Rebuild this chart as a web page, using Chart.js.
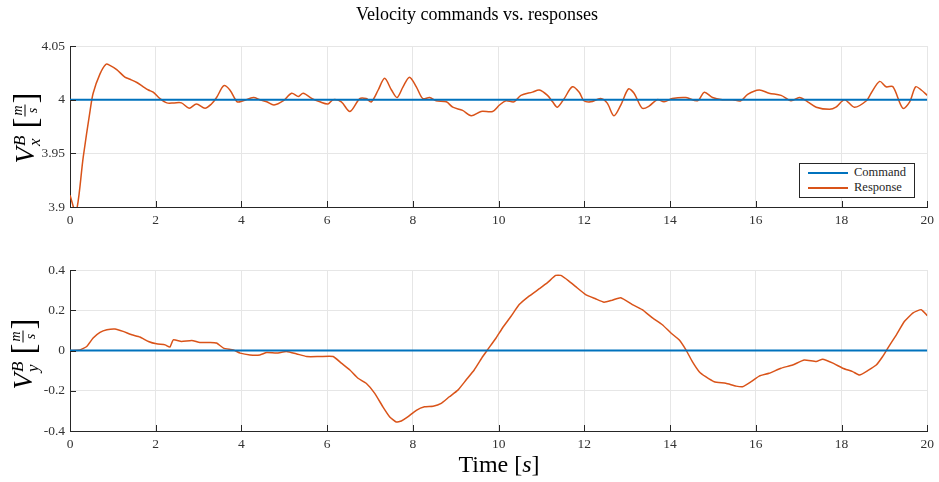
<!DOCTYPE html>
<html>
<head>
<meta charset="utf-8">
<script src="https://cdn.jsdelivr.net/npm/chart.js@4.4.1/dist/chart.umd.min.js"></script>
<style>
  body { margin: 0; background: #fff; font-family: "Liberation Serif", serif; color: #262626; }
  #wrap { position: relative; width: 939px; height: 482px; overflow: hidden; }
  .cv { position: absolute; left: 0; }
  .txt { position: absolute; white-space: nowrap; color: #000; }
  #title { left: 477px; top: 4px; transform: translateX(-50%); font-size: 18px; }
  #xlabel { left: 499px; top: 451px; transform: translateX(-50%); font-size: 24px; }
  .ylab { font-size: 27px; transform-origin: center center; display: flex; align-items: center; }
  .ylab .ss { display: inline-flex; flex-direction: column; font-size: 17px; line-height: 15px; margin-left: 1px; margin-top: 2px; }
  .ylab .fr { display: inline-flex; flex-direction: column; align-items: center; font-size: 14px; line-height: 14px; font-style: italic; }
  .ylab .fr span:first-child { border-bottom: 1px solid #000; padding: 0 1px; }
  .br { font-size: 33px; margin: 0 1px; }
  .gap { display: inline-block; width: 6px; }
  #legend { position: absolute; left: 799px; top: 163px; width: 114px; height: 33px; border: 1px solid #262626; background: #fff; font-size: 12.5px; }
  .li { position: absolute; left: 8px; display: flex; align-items: center; }
  .li i { display: inline-block; width: 40px; height: 2px; margin-right: 6px; }
</style>
</head>
<body>
<div id="wrap">
  <canvas id="top" class="cv" style="top:0px"></canvas>
  <canvas id="bot" class="cv" style="top:240px"></canvas>
  <div id="title" class="txt">Velocity commands vs. responses</div>
  <div id="xlabel" class="txt">Time [<i>s</i>]</div>
  <div id="ylab1" class="txt ylab"><i>V</i><span class="ss"><i>B</i><i>x</i></span><span class="gap"></span><span class="br">[</span><span class="fr"><span>m</span><span>s</span></span><span class="br">]</span></div>
  <div id="ylab2" class="txt ylab"><i>V</i><span class="ss"><i>B</i><i>y</i></span><span class="gap"></span><span class="br">[</span><span class="fr"><span>m</span><span>s</span></span><span class="br">]</span></div>
  <div id="legend">
    <div class="li" style="top:1px"><i style="background:#0072BD"></i>Command</div>
    <div class="li" style="top:16px"><i style="background:#D95319"></i>Response</div>
  </div>
</div>
<script>
// time axis
var xTicks = [0, 2, 4, 6, 8, 10, 12, 14, 16, 18, 20];

// command (constant)
var cmdT = [0, 20];
var cmdVx = [4, 4];
var cmdVy = [0, 0];

// response Vx
var tVx = [0, 0.14, 0.31, 0.47, 0.54, 0.70, 0.84, 0.93, 1.09, 1.28, 1.40, 1.56, 1.71, 1.83, 1.94,
  2.10, 2.26, 2.43, 2.60, 2.78, 2.95, 3.15, 3.30, 3.42, 3.59, 3.73, 3.90, 4.04, 4.28, 4.43,
  4.59, 4.76, 4.98, 5.17, 5.33, 5.44, 5.65, 5.83, 6.02, 6.14, 6.33, 6.53, 6.76, 6.91, 7.03,
  7.19, 7.34, 7.50, 7.63, 7.77, 7.92, 8.08, 8.23, 8.39, 8.54, 8.78, 8.93, 9.16, 9.36, 9.59,
  9.86, 10.02, 10.17, 10.36, 10.52, 10.79, 10.95, 11.14, 11.26, 11.37, 11.53, 11.72, 11.88, 11.99, 12.15,
  12.38, 12.53, 12.69, 12.85, 13.03, 13.16, 13.35, 13.51, 13.70, 13.86, 14.05, 14.37, 14.64, 14.80, 14.99,
  15.22, 15.46, 15.65, 15.81, 16.08, 16.31, 16.59, 16.82, 17.02, 17.21, 17.41, 17.72, 17.87, 18.07, 18.30,
  18.58, 18.69, 18.89, 19.04, 19.20, 19.43, 19.59, 19.73, 19.86, 20.00];
var respVx = [3.911, 3.895, 3.947, 3.990, 4.006, 4.024, 4.033, 4.032, 4.028, 4.021, 4.019, 4.016, 4.012, 4.009, 4.007,
  4.001, 3.997, 3.997, 3.997, 3.992, 3.996, 3.992, 3.996, 4.002, 4.013, 4.009, 3.998, 3.999, 4.002, 4.000,
  3.998, 3.995, 3.999, 4.006, 4.003, 4.006, 4.001, 3.998, 3.996, 4.000, 3.998, 3.989, 4.001, 4.001, 3.998,
  4.009, 4.020, 4.009, 4.002, 4.012, 4.021, 4.012, 4.001, 4.002, 3.999, 3.998, 3.993, 3.990, 3.985, 3.989,
  3.989, 3.995, 3.999, 3.998, 4.004, 4.007, 4.009, 4.004, 3.998, 3.993, 4.001, 4.012, 4.007, 3.999, 3.998,
  4.001, 3.997, 3.985, 3.995, 4.010, 4.006, 3.992, 3.994, 4.000, 3.998, 4.001, 4.002, 3.999, 4.007, 4.002,
  4.000, 4.000, 3.999, 4.005, 4.009, 4.006, 4.004, 3.999, 4.002, 3.998, 3.993, 3.991, 3.993, 4.000, 3.993,
  3.999, 4.006, 4.017, 4.012, 4.012, 3.992, 3.998, 4.012, 4.009, 4.004];

// response Vy
var tVy = [0, 0.23, 0.39, 0.54, 0.70, 0.86, 1.05, 1.24, 1.44, 1.63, 1.83, 2.02, 2.22, 2.33, 2.41,
  2.60, 2.84, 3.03, 3.27, 3.42, 3.58, 3.81, 3.97, 4.20, 4.43, 4.59, 4.82, 5.05, 5.29, 5.52,
  5.83, 6.14, 6.33, 6.53, 6.72, 6.91, 7.11, 7.30, 7.46, 7.61, 7.73, 7.88, 8.08, 8.27, 8.47,
  8.66, 8.85, 9.05, 9.24, 9.43, 9.63, 9.74, 9.94, 10.09, 10.29, 10.48, 10.71, 10.95, 11.14, 11.33,
  11.45, 11.64, 11.80, 12.03, 12.26, 12.46, 12.65, 12.85, 13.12, 13.35, 13.59, 13.82, 14.02, 14.21, 14.37,
  14.52, 14.68, 14.83, 15.03, 15.30, 15.54, 15.69, 15.89, 16.08, 16.31, 16.59, 16.86, 17.13, 17.41, 17.56,
  17.80, 18.03, 18.26, 18.42, 18.61, 18.81, 18.96, 19.08, 19.28, 19.47, 19.67, 19.86, 20.00];
var respVy = [0.000, 0.003, 0.020, 0.062, 0.090, 0.103, 0.107, 0.095, 0.078, 0.067, 0.045, 0.033, 0.028, 0.017, 0.053,
  0.045, 0.050, 0.040, 0.040, 0.037, 0.012, 0.003, -0.013, -0.022, -0.022, -0.010, -0.013, -0.005, -0.017, -0.030,
  -0.030, -0.030, -0.063, -0.097, -0.138, -0.163, -0.213, -0.280, -0.330, -0.355, -0.350, -0.330, -0.297, -0.280, -0.277,
  -0.263, -0.230, -0.197, -0.147, -0.097, -0.030, 0.003, 0.062, 0.112, 0.170, 0.228, 0.270, 0.307, 0.337, 0.373,
  0.373, 0.345, 0.317, 0.278, 0.257, 0.240, 0.250, 0.262, 0.228, 0.203, 0.162, 0.128, 0.087, 0.053, 0.003,
  -0.055, -0.105, -0.130, -0.155, -0.163, -0.177, -0.180, -0.155, -0.127, -0.113, -0.088, -0.072, -0.047, -0.055, -0.043,
  -0.063, -0.088, -0.105, -0.122, -0.100, -0.072, -0.030, 0.012, 0.078, 0.145, 0.187, 0.203, 0.173];

var yTicksTop = [3.9, 3.95, 4, 4.05];
var yTicksBot = [-0.4, -0.2, 0, 0.2, 0.4];

var BLUE = "#0072BD";
var RED = "#D95319";
var FONT = "'Liberation Serif', serif";

function pts(t, v) {
  return t.map(function (x, i) { return { x: x, y: v[i] }; });
}

// small inward ticks like MATLAB
var inwardTicks = {
  id: "inwardTicks",
  afterDatasetsDraw: function (chart) {
    var ctx = chart.ctx, a = chart.chartArea;
    var xs = chart.scales.x, ys = chart.scales.y;
    ctx.save();
    ctx.strokeStyle = "#262626";
    ctx.lineWidth = 1;
    ctx.beginPath();
    xTicks.forEach(function (v) {
      var px = Math.round(xs.getPixelForValue(v)) + 0.5;
      ctx.moveTo(px, a.bottom); ctx.lineTo(px, a.bottom - 6);
    });
    chart.options.yTickList.forEach(function (v) {
      var py = Math.round(ys.getPixelForValue(v)) + 0.5;
      ctx.moveTo(a.left, py); ctx.lineTo(a.left + 6, py);
    });
    ctx.stroke();
    ctx.restore();
  }
};

function makeChart(id, height, padTop, cmdY, respT, respY, yTicks, tension) {
  var canvas = document.getElementById(id);
  canvas.width = 939; canvas.height = height;
  canvas.style.width = "939px"; canvas.style.height = height + "px";
  return new Chart(canvas, {
    type: "line",
    data: {
      datasets: [
        { label: "Response", data: pts(respT, respY), borderColor: RED, borderWidth: 1.5, pointRadius: 0, tension: tension, order: 2 },
        { label: "Command", data: pts(cmdT, cmdY), borderColor: BLUE, borderWidth: 2, pointRadius: 0, order: 1 }
      ]
    },
    options: {
      responsive: false,
      animation: false,
      yTickList: yTicks,
      layout: { padding: { top: padTop, right: 11, left: 0, bottom: 0 } },
      plugins: { legend: { display: false }, tooltip: { enabled: false } },
      scales: {
        x: {
          type: "linear", min: 0, max: 20,
          afterBuildTicks: function (s) { s.ticks = xTicks.map(function (v) { return { value: v }; }); },
          afterFit: function (s) { s.height = height - padTop - 161; },
          grid: { color: "#e6e6e6", drawTicks: false },
          border: { display: true, color: "#262626", width: 1 },
          ticks: { color: "#333", font: { family: FONT, size: 13.5 }, padding: 5, maxRotation: 0 }
        },
        y: {
          min: yTicks[0], max: yTicks[yTicks.length - 1],
          afterBuildTicks: function (s) { s.ticks = yTicks.map(function (v) { return { value: v }; }); },
          afterFit: function (s) { s.width = 70; },
          grid: { color: "#e6e6e6", drawTicks: false },
          border: { display: true, color: "#262626", width: 1 },
          ticks: { color: "#333", font: { family: FONT, size: 13.5 }, padding: 5,
            callback: function (v) { return String(Math.round(v * 100) / 100); } }
        }
      }
    },
    plugins: [inwardTicks]
  });
}

makeChart("top", 230, 46, cmdVx, tVx, respVx, yTicksTop, 0.3);
makeChart("bot", 215, 30, cmdVy, tVy, respVy, yTicksBot, 0.15);

// rotate y labels
function placeY(id, cx, cy) {
  var el = document.getElementById(id);
  var w = el.offsetWidth, h = el.offsetHeight;
  el.style.left = (cx - w / 2) + "px";
  el.style.top = (cy - h / 2) + "px";
  el.style.transform = "rotate(-90deg)";
}
placeY("ylab1", 25, 127);
placeY("ylab2", 23, 353);
</script>
</body>
</html>
